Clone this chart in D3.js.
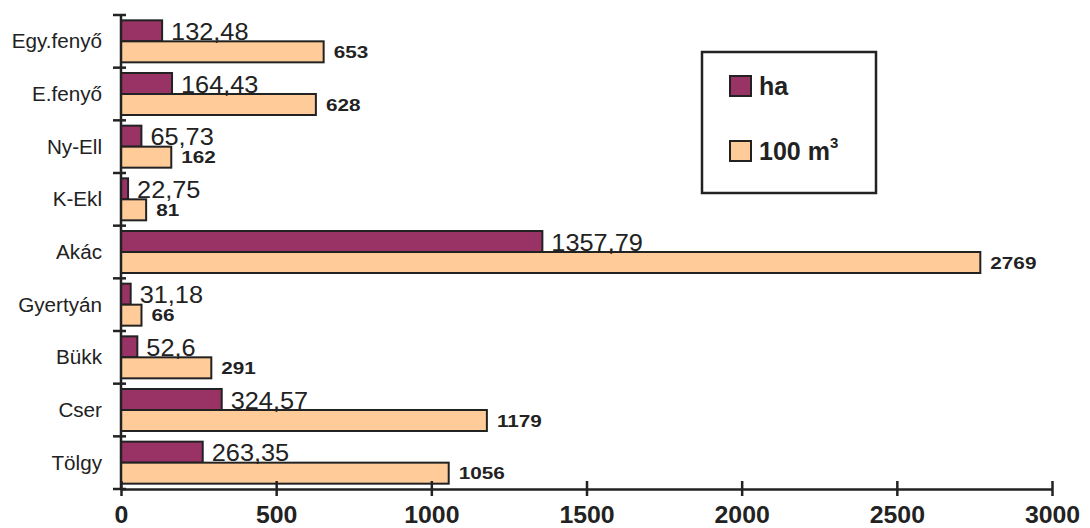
<!DOCTYPE html>
<html><head><meta charset="utf-8">
<script src="https://cdn.jsdelivr.net/npm/d3@7"></script>
<style>html,body{margin:0;padding:0;background:#fff;}svg{display:block;font-family:"Liberation Sans",Arial,sans-serif;}</style>
</head><body>
<svg id="c" width="1090" height="528"></svg>
<script>
const categories = ["Egy.fenyő","E.fenyő","Ny-Ell","K-Ekl","Akác","Gyertyán","Bükk","Cser","Tölgy"];
const haValues = [132.48,164.43,65.73,22.75,1357.79,31.18,52.6,324.57,263.35];
const volValues = [653,628,162,81,2769,66,291,1179,1056];
const xTicks = [0,500,1000,1500,2000,2500,3000];
const seriesNames = ["ha","100 m"];
const colors = ["#993366","#FFCC99"];

const svg = d3.select("#c");
const x = d3.scaleLinear().domain([0,3000]).range([121,1052]);
const y = d3.scaleBand().domain(categories).range([15,489]).paddingInner(0).paddingOuter(0);
const ys = d3.scaleBand().domain([0,1]).range([0,y.bandwidth()]).paddingOuter(0.254).paddingInner(0);
const fmt = v => String(v).replace(".", ",");
const ink = "#222";

function stext(parent, px, py, sx, txt){
  return parent.append("text").attr("transform", `translate(${px},${py}) scale(${sx},1)`).text(txt);
}

// bars
const g = svg.append("g");
categories.forEach((c,i)=>{
  const vals = [haValues[i], volValues[i]];
  vals.forEach((v,s)=>{
    g.append("rect")
      .attr("x", x(0)).attr("y", y(c)+ys(s))
      .attr("width", x(v)-x(0)).attr("height", ys.bandwidth())
      .attr("fill", colors[s]).attr("stroke", ink).attr("stroke-width", 2);
  });
  stext(g, x(haValues[i])+9, y(c)+ys(0)+ys.bandwidth()-1.5, 1.055, fmt(haValues[i]))
    .attr("font-size", 24).attr("fill", ink);
  stext(g, x(volValues[i])+10, y(c)+ys(1)+ys.bandwidth()/2, 1.22, volValues[i])
    .attr("dy","0.36em").attr("font-size", 17).attr("font-weight","bold").attr("fill", ink);
});

// y axis
const yAxisG = svg.append("g");
yAxisG.append("line").attr("x1",x(0)).attr("x2",x(0)).attr("y1",14).attr("y2",489)
  .attr("stroke",ink).attr("stroke-width",2.5);
const bounds = categories.map(c=>y(c)).concat([y.range()[1]]);
bounds.forEach(b=>{
  yAxisG.append("line").attr("x1",x(0)-8).attr("x2",x(0)+5).attr("y1",b).attr("y2",b)
    .attr("stroke",ink).attr("stroke-width",2.5);
});
categories.forEach(c=>{
  stext(yAxisG, 102, y(c)+y.bandwidth()/2, 1.06, c).attr("dy","0.36em")
    .attr("text-anchor","end").attr("font-size",19.5).attr("fill",ink);
});

// x axis
const xAxis = d3.axisBottom(x).tickValues(xTicks).tickSize(0).tickFormat(d=>d);
const xg = svg.append("g").attr("transform","translate(0,489)").call(xAxis);
xg.select(".domain").attr("stroke",ink).attr("stroke-width",2.5);
xg.selectAll(".tick text").attr("font-size",23).attr("font-weight","bold").attr("fill",ink)
  .attr("font-family","Liberation Sans, Arial, sans-serif").attr("y",18).attr("dy","0.71em")
  .attr("transform","scale(1.08,1)");
xg.selectAll(".tick").append("line").attr("y1",-8).attr("y2",7).attr("stroke",ink).attr("stroke-width",2.5);

// legend
const lg = svg.append("g");
lg.append("rect").attr("x",702).attr("y",52).attr("width",174).attr("height",141)
  .attr("fill","#fff").attr("stroke",ink).attr("stroke-width",2.5);
const ly = [76,141];
seriesNames.forEach((n,i)=>{
  lg.append("rect").attr("x",730).attr("y",ly[i]).attr("width",21).attr("height",20)
    .attr("fill",colors[i]).attr("stroke",ink).attr("stroke-width",2);
  const t = lg.append("text").attr("x",759).attr("y",ly[i]+18.5).attr("font-size",25)
    .attr("font-weight","bold").attr("fill",ink).text(n);
  if(i===1){
    t.append("tspan").attr("font-size",15).attr("dy",-12).text("3");
  }
});
</script>
</body></html>
